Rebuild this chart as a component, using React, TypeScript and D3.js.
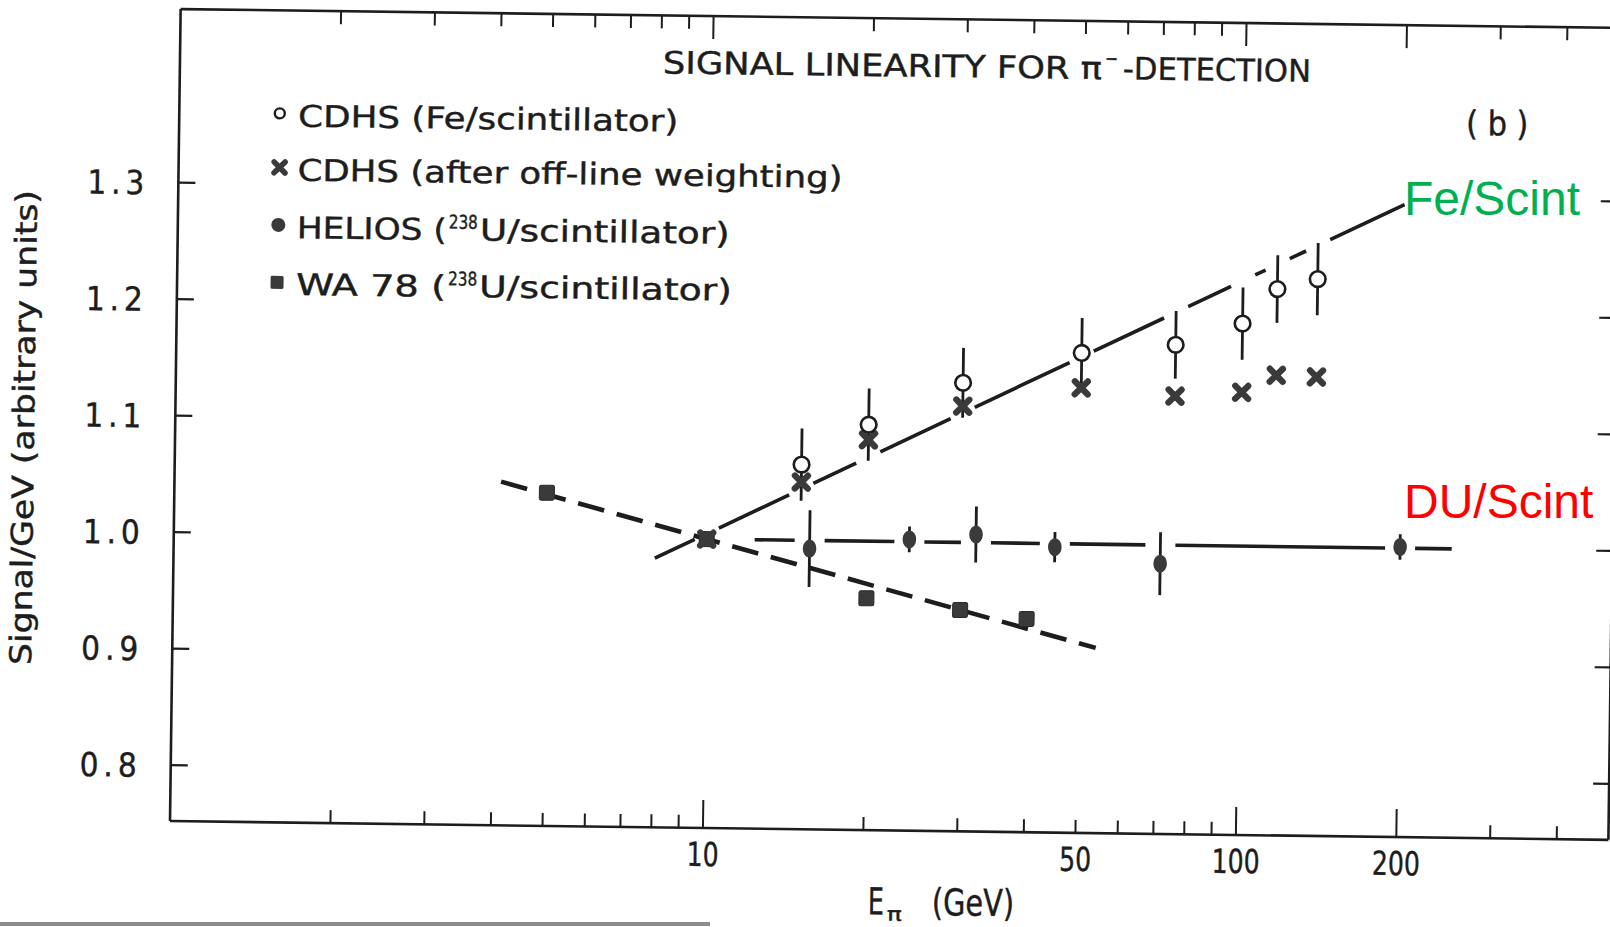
import React from "react";
import * as d3 from "d3";

// ---------------- data ----------------
const cdhsFeEnergy = [15, 20, 30, 50, 75, 100, 116, 138];
const cdhsFeSignal = [1.065, 1.1, 1.137, 1.164, 1.172, 1.191, 1.221, 1.23];
const cdhsFeError = [0.031, 0.031, 0.03, 0.03, 0.029, 0.031, 0.029, 0.031];

const cdhsWeightedEnergy = [10, 15, 20, 30, 50, 75, 100, 116, 138];
const cdhsWeightedSignal = [1.0, 1.05, 1.087, 1.117, 1.134, 1.128, 1.132, 1.147, 1.146];

const heliosEnergy = [15.6, 24, 32, 45, 71, 200];
const heliosSignal = [0.993, 1.002, 1.007, 0.997, 0.984, 1.001];
const heliosError = [0.033, 0.011, 0.024, 0.013, 0.027, 0.011];

const wa78Energy = [5, 10, 20, 30, 40];
const wa78Signal = [1.038, 1.0, 0.951, 0.942, 0.935];

// hand-drawn trend lines (end points)
const feFitEnergy = [8, 200];
const feFitSignal = [0.983, 1.295];
const duFitEnergy = [12.3, 250];
const duFitSignal = [1.0, 1.0];
const wa78FitEnergy = [4.1, 54];
const wa78FitSignal = [1.047, 0.911];

const xLabelTicks = [10, 50, 100, 200];
const xMajorTicks = [10, 100, 200];
const yTicks = [0.8, 0.9, 1.0, 1.1, 1.2, 1.3];

// ---------------- styling ----------------
const INK = "#1d1d1d";
const MARK = "#3a3a3a";
const FONT = "'DejaVu Sans Condensed', 'DejaVu Sans', sans-serif";

const W = 1610;
const H = 927;

const x = d3.scaleLog().domain([1, 500]).range([170, 1608.5]);
const y = d3.scaleLinear().domain([0.752, 1.449]).range([821, 9]);

function brokenSegments(
  e: number[],
  v: number[],
  breaks: number[],
  gap: number
) {
  const x0 = x(e[0]), y0 = y(v[0]), x1 = x(e[1]), y1 = y(v[1]);
  const bx = breaks.map((b) => x(b)).filter((b) => b > x0 - gap && b < x1 + gap).sort((a, b) => a - b);
  const segs: [number, number][] = [];
  let start = x0;
  for (const b of bx) {
    const end = b - gap;
    if (end > start) segs.push([start, end]);
    start = Math.max(start, b + gap);
  }
  if (x1 > start) segs.push([start, x1]);
  const yAt = (px: number) => y0 + ((y1 - y0) * (px - x0)) / (x1 - x0);
  return segs.map(([a, b]) => ({ x1: a, y1: yAt(a), x2: b, y2: yAt(b) }));
}

function T(props: {
  x: number;
  y: number;
  len: number;
  size: number;
  children: React.ReactNode;
  adjust?: string;
}) {
  return (
    <text
      x={props.x}
      y={props.y}
      fontSize={props.size}
      fontFamily={FONT}
      textLength={props.len}
      lengthAdjust={props.adjust || "spacingAndGlyphs"}
      fill={INK}
      stroke={INK}
      strokeWidth={0.4}
    >
      {props.children}
    </text>
  );
}

function Cross({ cx, cy, s = 6.3, w = 6 }: { cx: number; cy: number; s?: number; w?: number }) {
  return (
    <path
      d={`M${cx - s},${cy - s}L${cx + s},${cy + s}M${cx - s},${cy + s}L${cx + s},${cy - s}`}
      stroke={MARK}
      strokeWidth={w}
      strokeLinecap="round"
      fill="none"
    />
  );
}

export default function App() {
  const allTicks = x.ticks().filter((t) => t > 1 && t < 500);
  const feSegs = brokenSegments(feFitEnergy, feFitSignal, [10, ...cdhsFeEnergy], 12);
  const duSegs = brokenSegments(duFitEnergy, duFitSignal, heliosEnergy, 15);

  return (
    <svg
      width={W}
      height={H}
      viewBox={`0 0 ${W} ${H}`}
      style={{ position: "absolute", left: 0, top: 0, display: "block", background: "#fff" }}
    >
      <rect x={0} y={0} width={W} height={H} fill="#fff" />
      <g transform="rotate(0.75 169 822)">
        {/* frame */}
        <g stroke={INK} strokeWidth={2.6} fill="none">
          <line x1={x(1)} y1={y.range()[0]} x2={x(500)} y2={y.range()[0]} />
          <line x1={x(1)} y1={y.range()[1]} x2={x(500) + 20} y2={y.range()[1]} />
          <line x1={x(1)} y1={y.range()[0]} x2={x(1)} y2={y.range()[1]} />
          <line x1={x(500)} y1={y.range()[0]} x2={x(500)} y2={y.range()[1]} />
        </g>
        {/* x ticks */}
        <g stroke={INK} strokeWidth={2}>
          {allTicks.map((t) => {
            const major = xMajorTicks.includes(t);
            return (
              <g key={"xt" + t}>
                <line x1={x(t)} x2={x(t)} y1={821} y2={821 - (major ? 28 : 13)} />
                <line x1={x(t)} x2={x(t)} y1={9} y2={9 + (major ? 23 : 13)} />
              </g>
            );
          })}
        </g>
        {/* y ticks */}
        <g stroke={INK} strokeWidth={2.2}>
          {yTicks.map((t) => (
            <g key={"yt" + t}>
              <line x1={x(1)} x2={x(1) + 17} y1={y(t)} y2={y(t)} />
              <line x1={x(500) - 16} x2={x(500)} y1={y(t)} y2={y(t)} />
            </g>
          ))}
        </g>
        {/* y tick labels */}
        {yTicks.map((t) => (
          <T key={"yl" + t} x={79} y={y(t) + 12} len={57} size={33} adjust="spacing">
            {d3.format(".1f")(t)}
          </T>
        ))}
        {/* x tick labels */}
        {xLabelTicks.map((t) => {
          const s = String(t);
          const len = s.length === 2 ? 32 : 48;
          return (
            <T key={"xl" + t} x={x(t) - len / 2} y={859} len={len} size={33}>
              {s}
            </T>
          );
        })}

        {/* axis titles */}
        <text
          transform="translate(29,667) rotate(-90)"
          fontSize={30}
          fontFamily={FONT}
          textLength={475}
          lengthAdjust="spacingAndGlyphs"
          fill={INK}
          stroke={INK}
          strokeWidth={0.4}
        >
          Signal/GeV (arbitrary units)
        </text>
        <T x={869} y={905} len={16} size={37}>E</T>
        <T x={888} y={911} len={15} size={19}>π</T>
        <T x={933} y={905} len={82} size={37}>(GeV)</T>

        {/* title */}
        <T x={653} y={67} len={439} size={31}>SIGNAL LINEARITY FOR π</T>
        <T x={1095} y={53} len={13} size={20}>−</T>
        <T x={1113} y={67} len={188} size={31}>-DETECTION</T>
        <T x={1457} y={118} len={62} size={34} adjust="spacing">(b)</T>

        {/* legend */}
        <circle cx={270.5} cy={112} r={5} fill="#fff" stroke={INK} strokeWidth={2.4} />
        <T x={289} y={125} len={380} size={30}>CDHS (Fe/scintillator)</T>
        <Cross cx={271} cy={166} s={5.5} w={5.5} />
        <T x={289} y={179} len={545} size={30}>CDHS (after off-line weighting)</T>
        <circle cx={270.5} cy={223.5} r={7} fill={MARK} />
        <T x={289} y={236.6} len={150} size={30}>HELIOS (</T>
        <T x={441} y={225} len={29} size={19}>238</T>
        <T x={472} y={236.6} len={250} size={30}>U/scintillator)</T>
        <rect x={263.5} y={274.5} width={13} height={13} rx={1.5} fill={MARK} />
        <T x={289} y={293.3} len={150} size={30}>WA 78 (</T>
        <T x={441} y={281.7} len={29} size={19}>238</T>
        <T x={472} y={293.3} len={253} size={30}>U/scintillator)</T>

        {/* trend lines */}
        <g stroke={INK} strokeWidth={3.6} strokeLinecap="butt">
          {feSegs.map((s, i) => (
            <line key={"fe" + i} {...s} />
          ))}
          {duSegs.map((s, i) => (
            <line key={"du" + i} {...s} />
          ))}
        </g>
        <line
          x1={x(wa78FitEnergy[0])}
          y1={y(wa78FitSignal[0])}
          x2={x(wa78FitEnergy[1])}
          y2={y(wa78FitSignal[1])}
          stroke={INK}
          strokeWidth={4.6}
          strokeDasharray="27 13"
        />

        {/* error bars */}
        <g stroke={INK} strokeWidth={2.8}>
          {cdhsFeEnergy.map((e, i) => (
            <line
              key={"ce" + i}
              x1={x(e)}
              x2={x(e)}
              y1={y(cdhsFeSignal[i] + cdhsFeError[i])}
              y2={y(cdhsFeSignal[i] - cdhsFeError[i])}
            />
          ))}
          {heliosEnergy.map((e, i) => (
            <line
              key={"he" + i}
              x1={x(e)}
              x2={x(e)}
              y1={y(heliosSignal[i] + heliosError[i])}
              y2={y(heliosSignal[i] - heliosError[i])}
            />
          ))}
        </g>

        {/* WA78 squares */}
        {wa78Energy.map((e, i) => (
          <rect
            key={"wa" + i}
            x={x(e) - 7.5}
            y={y(wa78Signal[i]) - 7.5}
            width={15}
            height={15}
            rx={2}
            fill={MARK}
            stroke="#2a2a2a"
            strokeWidth={1}
          />
        ))}
        {/* CDHS weighted crosses */}
        {cdhsWeightedEnergy.map((e, i) => (
          <Cross key={"cw" + i} cx={x(e)} cy={y(cdhsWeightedSignal[i])} s={6.5} w={6.3} />
        ))}
        {/* CDHS open circles */}
        {cdhsFeEnergy.map((e, i) => (
          <circle
            key={"co" + i}
            cx={x(e)}
            cy={y(cdhsFeSignal[i])}
            r={7.8}
            fill="#fff"
            stroke={INK}
            strokeWidth={2.6}
          />
        ))}
        {/* HELIOS filled */}
        {heliosEnergy.map((e, i) => (
          <ellipse key={"hm" + i} cx={x(e)} cy={y(heliosSignal[i])} rx={6.8} ry={9} fill={MARK} />
        ))}
      </g>

      {/* later annotations (not part of the scan) */}
      <text x={1404} y={215} fontSize={48} fontFamily="'Liberation Sans', Arial, sans-serif" fill="#00B050">
        Fe/Scint
      </text>
      <text x={1404} y={518} fontSize={48} fontFamily="'Liberation Sans', Arial, sans-serif" fill="#FF0000">
        DU/Scint
      </text>
      {/* scan edge */}
      <line x1={0} y1={924} x2={710} y2={924} stroke="#8c8c8c" strokeWidth={4} />
    </svg>
  );
}
